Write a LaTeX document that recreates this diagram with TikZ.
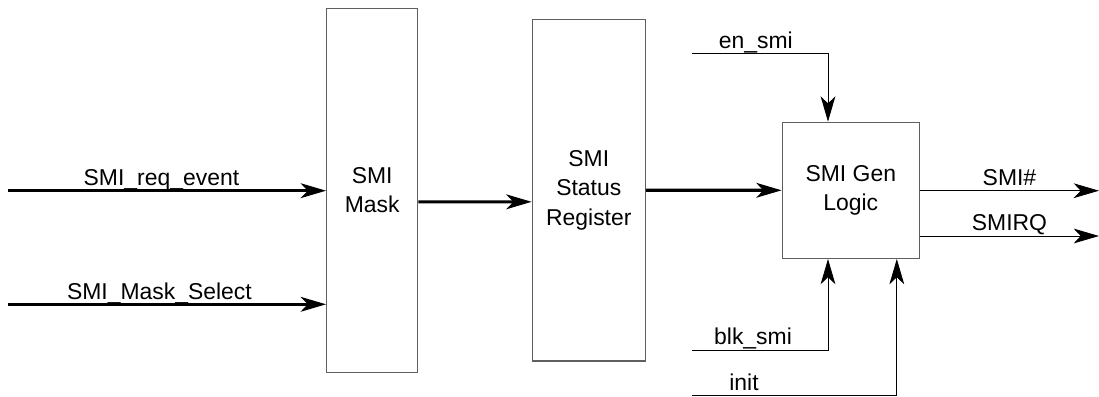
\documentclass[tikz,border=0pt]{standalone}
\usepackage{fontspec}
\setmainfont{Liberation Sans}
\usetikzlibrary{arrows.meta,positioning,calc}
\definecolor{grisborde}{RGB}{95,95,95}

\tikzset{
  blockbox/.style={draw=grisborde,line width=0.9pt,align=center,inner sep=0pt},
  sigthick/.style={-{Stealth[length=18pt,width=10.5pt,inset=5pt]},line width=2.2pt},
  sigthin/.style={-{Stealth[length=18pt,width=10.5pt,inset=5pt]},line width=0.6pt},
  siglabel/.style={anchor=base,inner sep=0pt,yshift=0.13cm}
}

\begin{document}
\begin{tikzpicture}[x=0.025cm,y=-0.025cm,font=\fontsize{16.3}{21}\selectfont]
    \useasboundingbox (0,0) rectangle (1099,396);
    \node[blockbox,minimum width=2.275cm,minimum height=9.1cm]
      (mask) at (372.2,190.3) {SMI\\Mask};
    \node[blockbox,minimum width=2.825cm,minimum height=8.54cm]
      (status) at (588.8,190.2) {SMI\\Status\\Register};
    \node[blockbox,minimum width=3.425cm,minimum height=3.4cm]
      (gen) at (850.8,190.3) {SMI Gen\\Logic};
    \coordinate (reqin) at (8,190.7);
    \coordinate (selin) at (8,304.3);
    \coordinate (enin) at (691.7,53.3);
    \coordinate (blkin) at (691.7,350);
    \coordinate (initin) at (691.7,395.6);
    \coordinate (smiout) at (1099,190.7);
    \coordinate (irqout) at (1099,236);
    \coordinate (enpt) at ([xshift=-0.57cm]gen.north);
    \coordinate (blkpt) at ([xshift=-0.57cm]gen.south);
    \coordinate (initpt) at ([xshift=1.15cm]gen.south);
    \draw[sigthick] (reqin) -- node[siglabel,xshift=-0.14cm]{SMI\_req\_event} (reqin -| mask.west);
    \draw[sigthick] (selin) -- node[siglabel,xshift=-0.19cm]{SMI\_Mask\_Select} (selin -| mask.west);
    \draw[sigthick] ([yshift=-0.29cm]mask.east) -- ([yshift=-0.29cm]status.west);
    \draw[sigthick] (status.east) -- (gen.west);
    \draw[sigthin] (enin) -- node[siglabel,pos=0.47]{en\_smi} (enin -| enpt) -- (enpt);
    \draw[sigthin] (blkin) -- node[siglabel,pos=0.45]{blk\_smi} (blkin -| blkpt) -- (blkpt);
    \draw[sigthin] (initin) -- node[siglabel,pos=0.255]{init} (initin -| initpt) -- (initpt);
    \draw[sigthin] (gen.east |- smiout) -- node[siglabel]{SMI\#} (smiout);
    \draw[sigthin] (gen.east |- irqout) -- node[siglabel]{SMIRQ} (irqout);
  \end{tikzpicture}
\end{document}
